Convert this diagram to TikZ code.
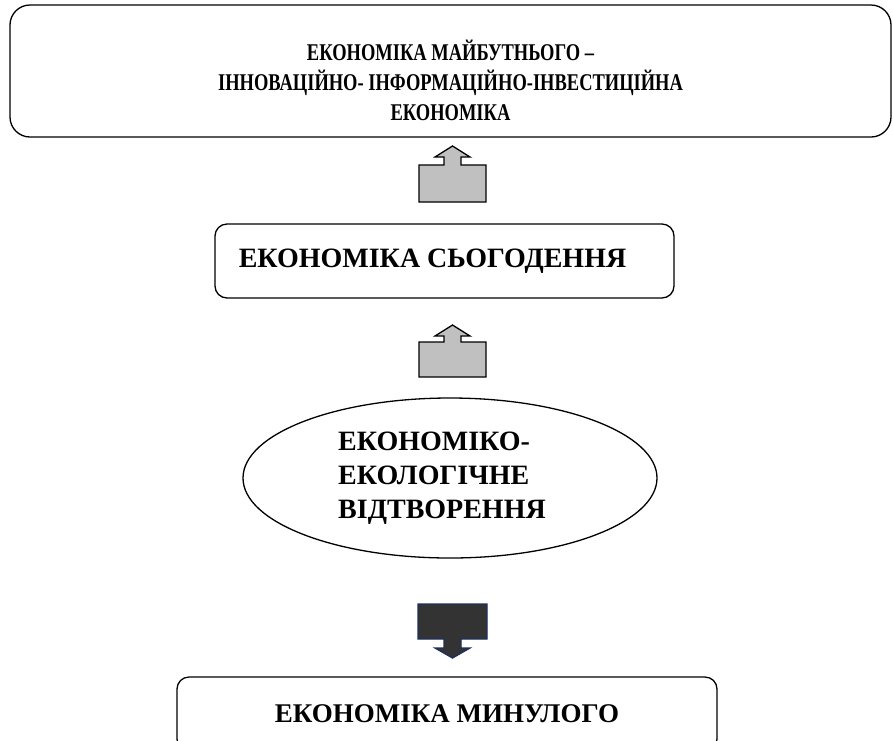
\documentclass[tikz,border=0pt]{standalone}
\usepackage{fontspec}
\setmainfont{Liberation Serif}
\newfontfamily\narrowfont[FakeStretch=0.77]{Liberation Serif}
\usepackage{tikz}
\usetikzlibrary{shapes, positioning}
\definecolor{navy}{HTML}{1F2F5F}
\definecolor{darkfill}{HTML}{333333}
\definecolor{lightfill}{HTML}{C0C0C0}

\begin{document}
\begin{tikzpicture}[x=1pt,y=-1pt,
  box/.style={draw, line width=1.3pt, rounded corners=12pt, align=center,
    font=\fontsize{28}{34}\selectfont\bfseries},
  uparr/.style={draw, line width=1.3pt, fill=lightfill},
  downarr/.style={draw=navy, line width=1.3pt, fill=darkfill}]
\useasboundingbox (0,0) rectangle (893,740);
\clip (0,0) rectangle (893,740);

\node[box, rounded corners=20pt, minimum width=881pt, minimum height=132pt,
  font=\narrowfont\fontsize{24}{30}\selectfont\bfseries] (future) at (450.5,71)
  {\rule{0pt}{40pt}ЕКОНОМІКА МАЙБУТНЬОГО –\\ІННОВАЦІЙНО- ІНФОРМАЦІЙНО-ІНВЕСТИЦІЙНА\\ЕКОНОМІКА};

\node[box, minimum width=459pt, minimum height=74pt] (present) at (444.5,261)
  {ЕКОНОМІКА СЬОГОДЕННЯ\hspace*{24pt}};

\node[draw, ellipse, line width=1.3pt, align=left, minimum width=414pt,
  minimum height=160pt, font=\fontsize{28}{34}\selectfont\bfseries] (ecology)
  at (450,478) {ЕКОНОМІКО-\\ЕКОЛОГІЧНЕ\\ВІДТВОРЕННЯ\hspace*{16pt}};

\node[box, minimum width=540pt, minimum height=74pt,
  font=\fontsize{27}{34}\selectfont\bfseries] (past) at (447,714)
  {ЕКОНОМІКА МИНУЛОГО};

\draw[uparr, shift={(452.5,202)}] (-33.5,0) -- (-33.5,-37) -- (-8.5,-37)
  -- (-8.5,-45) -- (-17.5,-45) -- (0,-56) -- (17.5,-45) -- (8.5,-45)
  -- (8.5,-37) -- (33.5,-37) -- (33.5,0) -- cycle;
\draw[uparr, shift={(452.5,377)}] (-33.5,0) -- (-33.5,-35) -- (-8.5,-35)
  -- (-8.5,-41) -- (-17.5,-41) -- (0,-52) -- (17.5,-41) -- (8.5,-41)
  -- (8.5,-35) -- (33.5,-35) -- (33.5,0) -- cycle;

\draw[downarr, shift={(452.5,604)}] (-34.5,0) -- (34.5,0) -- (34.5,35)
  -- (8.5,35) -- (8.5,44) -- (17.5,44) -- (0,54) -- (-17.5,44) -- (-8.5,44)
  -- (-8.5,35) -- (-34.5,35) -- cycle;

\end{tikzpicture}
\end{document}
